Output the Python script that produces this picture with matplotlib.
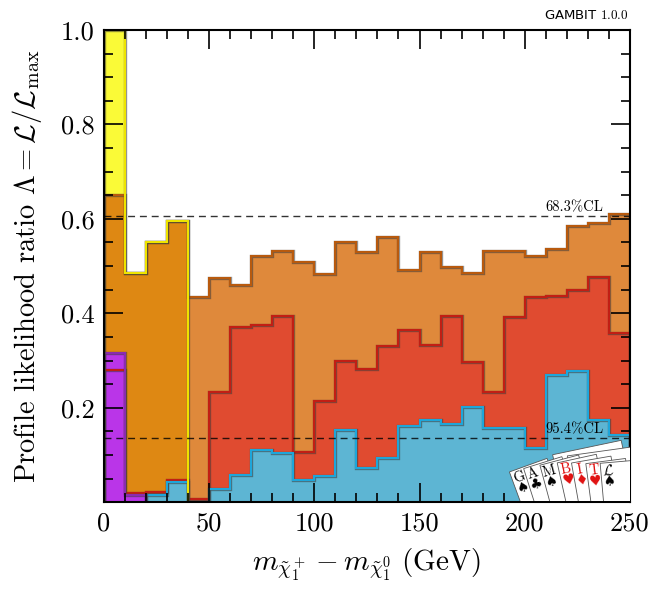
import numpy as np
import matplotlib
matplotlib.use("Agg")
import matplotlib.pyplot as plt
import matplotlib.patheffects as pe
from matplotlib.patches import Rectangle
from matplotlib.ticker import MultipleLocator, FixedLocator

plt.rcParams["font.family"] = ["cmr10", "DejaVu Serif"]
plt.rcParams["mathtext.fontset"] = "cm"
plt.rcParams["axes.formatter.use_mathtext"] = True

# bin edges (GeV) and profile likelihood per bin
EDGES = np.arange(0, 260, 10)
YELLOW = [1.0, 0.485, 0.552, 0.596]                      # bins 0-40
ORANGE = [0.651, 0.485, 0.552, 0.596, 0.434, 0.474, 0.460, 0.521, 0.532, 0.509,
          0.483, 0.550, 0.530, 0.561, 0.492, 0.530, 0.498, 0.485, 0.531, 0.532,
          0.522, 0.536, 0.584, 0.591, 0.610]
RED = [0.279, 0.020, 0.022, 0.048, 0.007, 0.234, 0.370, 0.375, 0.395, 0.106,
       0.215, 0.299, 0.282, 0.330, 0.365, 0.333, 0.395, 0.296, 0.233, 0.392,
       0.434, 0.436, 0.450, 0.477, 0.359]
BLUE = [0.015, 0.043, 0.0, 0.029, 0.057, 0.111, 0.105, 0.047, 0.056, 0.153,
        0.072, 0.093, 0.162, 0.175, 0.165, 0.201, 0.157, 0.157, 0.115, 0.270,
        0.278, 0.175, 0.143]                                # bins 20-250
PURPLE = [0.316, 0.016]                                     # bins 0-20
CL_LEVELS = [np.exp(-0.5), np.exp(-2.0)]
CL_LABELS = ["68.3%CL", "95.4%CL"]

# (values, edges, fill, alpha, edge colour)
SERIES = [
    (YELLOW, EDGES[:5], "#FAFA37", 1.0, "#EEE400"),
    (ORANGE, EDGES, "#D86C0A", 0.8, "#B85A0E"),
    (RED, EDGES, "#E04B30", 1.0, "#C21E14"),
    (BLUE, EDGES[2:], "#5DB5D3", 1.0, "#1EA6DA"),
    (PURPLE, EDGES[:3], "#BA35E8", 1.0, "#8A2CB0"),
]
EDGE_ORDER = [1, 2, 3, 4, 0]

fig = plt.figure(figsize=(6.5, 6.0), dpi=100)
ax = fig.add_axes([0.16, 0.163, 0.809, 0.787])

for vals, ed, fc, a, ec in SERIES:
    ax.stairs(vals, ed, fill=True, color=fc, alpha=a, lw=0, zorder=1)
outline = [pe.Stroke(linewidth=2.4, foreground="#3a3a3a", alpha=0.55), pe.Normal()]
for i in EDGE_ORDER:
    vals, ed, fc, a, ec = SERIES[i]
    ax.stairs(vals, ed, fill=False, color=ec, lw=1.5, zorder=1.5, path_effects=outline)

for lev, lab in zip(CL_LEVELS, CL_LABELS):
    ax.axhline(lev, color="k", ls=(0, (5, 3.5)), lw=1.0, alpha=0.8, zorder=3)
    ax.text(237.5, lev + 0.004, lab, ha="right", va="bottom", fontsize=10.5, zorder=3)

ax.set_xlim(0, 250)
ax.set_ylim(0, 1)
ax.xaxis.set_major_locator(MultipleLocator(50))
ax.xaxis.set_minor_locator(MultipleLocator(10))
ax.yaxis.set_major_locator(FixedLocator([0.2, 0.4, 0.6, 0.8, 1.0]))
ax.yaxis.set_minor_locator(MultipleLocator(0.05))
ax.xaxis.set_major_formatter(lambda v, p: "%d" % v)
ax.yaxis.set_major_formatter(lambda v, p: "%.1f" % v)
ax.tick_params(which="both", direction="in", top=True, right=True, width=1.2, labelsize=19)
ax.tick_params(which="major", length=14, pad=7)
ax.tick_params(which="minor", length=6.5)
for s in ax.spines.values():
    s.set_linewidth(1.5)

ax.set_xlabel(r"$m_{\tilde\chi_1^+} - m_{\tilde\chi_1^0}\ \mathrm{(GeV)}$", fontsize=21, labelpad=8)
ax.set_ylabel(r"Profile likelihood ratio $\Lambda = \mathcal{L}/\mathcal{L}_\mathrm{max}$",
              fontsize=20.5, labelpad=12)

fig.text(0.967, 0.963, r"GAMBIT $\mathrm{1.0.0}$", ha="right", va="bottom",
         fontsize=9.5, family="DejaVu Sans")

# GAMBIT card logo, bottom right
logo = ax.inset_axes([0.762, 0.003, 0.238, 0.13])
logo.set_xlim(0, 125)
logo.set_ylim(0, 62)
logo.axis("off")
letters = ["G", "A", "M", "B", "I", "T", r"$\mathcal{L}$"]
suits = ["\u2660", "\u2663", "\u2660", "\u2665", "\u2666", "\u2665", "\u2660"]
reds = [False, False, False, True, True, True, False]
lx = [14, 28, 44, 61, 75, 89, 103]
ly = [24, 27, 30, 32, 31.5, 30.5, 30.5]
# two cards peeking out behind the fan
for k, (bx, by, ang) in enumerate([(62, 40, 12), (72, 38, 8)]):
    logo.add_patch(Rectangle((bx, by - 60), 70, 60 + 8, angle=ang, facecolor="white",
                             edgecolor="#555555", lw=0.6, zorder=1 + 0.1 * k))
for i in range(7):
    th = np.deg2rad(20 - 2.5 * i)
    R = np.array([[np.cos(th), -np.sin(th)], [np.sin(th), np.cos(th)]])
    org = np.array([lx[i], ly[i]]) - R @ np.array([7.0, 52.0])
    logo.add_patch(Rectangle(org, 40, 60, angle=np.rad2deg(th), facecolor="white",
                             edgecolor="#555555", lw=0.6, zorder=2 + i))
    col = "#E01010" if reds[i] else "black"
    logo.text(lx[i], ly[i], letters[i], ha="center", va="center", fontsize=10.5,
              rotation=np.rad2deg(th), color=col, zorder=2.5 + i)
    sp = np.array([lx[i], ly[i]]) + R @ np.array([0.5, -11.0])
    logo.text(sp[0], sp[1], suits[i], ha="center", va="center", fontsize=10,
              rotation=np.rad2deg(th), color=col, family="DejaVu Sans", zorder=2.5 + i)

fig.savefig("out.png", dpi=100)
